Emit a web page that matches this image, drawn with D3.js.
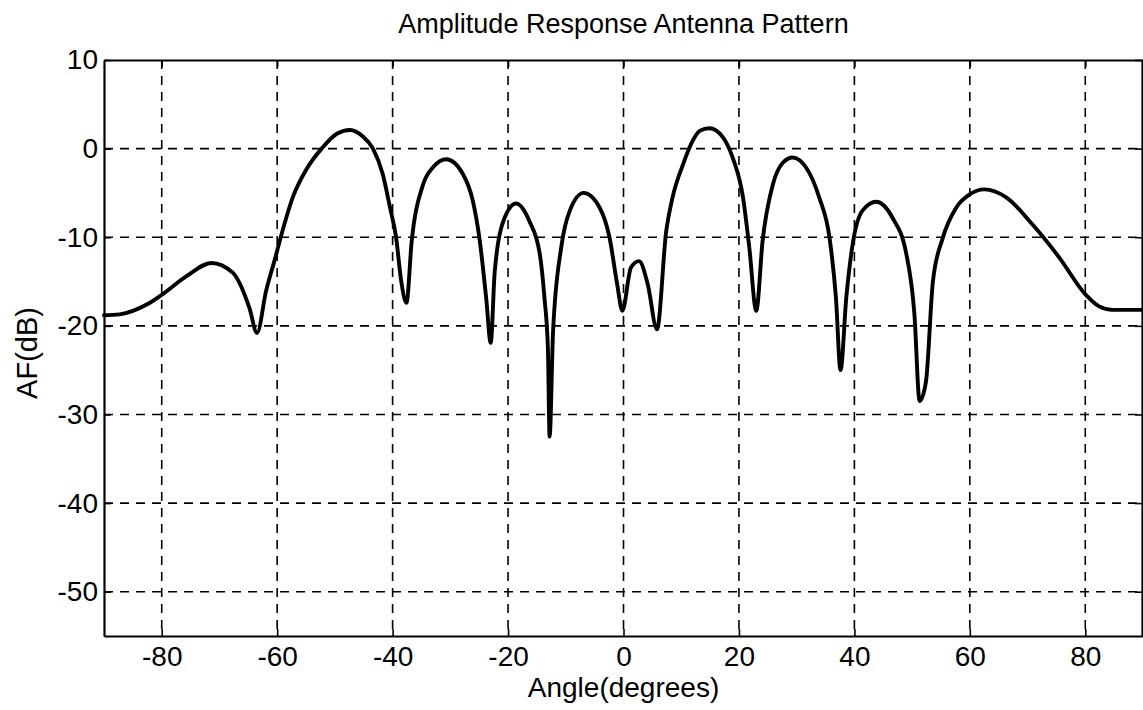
<!DOCTYPE html>
<html>
<head>
<meta charset="utf-8">
<script src="https://cdn.jsdelivr.net/npm/d3@7"></script>
<style>
  html, body { margin: 0; padding: 0; background: #fff; }
  svg { display: block; }
  text { font-family: "Liberation Sans", Arial, Helvetica, sans-serif; fill: #000; }
</style>
</head>
<body>
<svg id="chart" width="1143" height="710"></svg>
<script>
// ---- data ----
const angles = [-90, -87.3, -82.6, -80, -75.7, -71.4, -67.7, -64.8, -63.5, -61.9, -60.4, -59.3, -57.3, -54.9,
  -52.3, -49.6, -47.4, -45.2, -43.4, -41.7, -40.5, -39.4, -38.5, -37.6, -36.7, -34.8, -33.0, -30.7, -27.8,
  -26.1, -24.9, -23.8, -23.0, -22.3, -20.6, -18.6, -16.3, -14.5, -13.7, -13.1, -12.8, -12.2, -10.8, -9.3,
  -6.9, -4.1, -2.4, -1.1, -0.2, 1.3, 2.7, 4.2, 5.8, 7.4, 8.5, 10.3, 12.0, 13.2, 14.9, 17.2, 18.9, 20.7,
  21.8, 23.0, 24.1, 25.9, 27.6, 29.3, 31.6, 33.9, 35.7, 36.8, 37.6, 38.6, 39.7, 41.4, 43.8, 46.6, 49.0,
  50.4, 51.3, 52.4, 53.6, 55.3, 57.6, 59.9, 62.5, 66.3, 70.9, 75.5, 80.1, 82.4, 84.7, 90];
const afdB = [-18.8, -18.7, -17.6, -16.5, -14.4, -12.9, -14.0, -18.0, -20.8, -16.0, -12.5, -9.8, -5.5, -2.3,
  0.0, 1.7, 2.1, 1.4, 0.0, -2.9, -6.5, -10.0, -15.0, -17.4, -10.5, -4.2, -2.1, -1.2, -2.9,
  -5.9, -10.4, -16.8, -21.9, -13.8, -7.8, -6.2, -8.2, -11.9, -16.8, -22.5, -32.5, -20.6, -11.2, -7.0,
  -5.0, -6.7, -10.1, -15.3, -18.3, -13.4, -12.7, -15.3, -20.4, -9.3, -5.5, -1.8, 0.9, 2.0, 2.3, 1.3, -1.0, -5.5,
  -11.2, -18.3, -10.4, -4.0, -1.6, -1.0, -2.1, -5.5, -10.1, -16.8, -25.0, -16.8, -10.8, -7.0, -6.0, -7.8, -11.9,
  -18.7, -28.5, -26.3, -15.0, -10.1, -6.7, -5.2, -4.6, -5.5, -8.6, -12.3, -16.5, -17.8, -18.2, -18.2];
const xTicks = [-80, -60, -40, -20, 0, 20, 40, 60, 80];
const yTicks = [10, 0, -10, -20, -30, -40, -50];
const xDomain = [-90, 90];
const yDomain = [-55, 10];
const titleText = "Amplitude Response Antenna Pattern";
const xLabelText = "Angle(degrees)";
const yLabelText = "AF(dB)";

// ---- layout ----
const svg = d3.select("#chart");
const L = 104, R = 1143, T = 60, B = 636;
const x = d3.scaleLinear().domain(xDomain).range([L, R]);
const y = d3.scaleLinear().domain(yDomain).range([B, T]);
const fmt = d => String(d);   // plain hyphen-minus like the reference

// grid
const grid = svg.append("g").attr("stroke", "#000").attr("stroke-width", 1.6)
  .attr("stroke-dasharray", "9,7").attr("fill", "none");
grid.selectAll("line.v").data(xTicks).join("line").attr("class", "v")
  .attr("x1", d => x(d)).attr("x2", d => x(d)).attr("y1", T).attr("y2", B);
grid.selectAll("line.h").data(yTicks.filter(d => d > yDomain[0] && d < yDomain[1])).join("line").attr("class", "h")
  .attr("y1", d => y(d)).attr("y2", d => y(d)).attr("x1", L).attr("x2", R);

// axes (frame + inward ticks + labels)
const axB = d3.axisBottom(x).tickValues(xTicks).tickSizeInner(-7).tickSizeOuter(0).tickPadding(10).tickFormat(fmt);
const axT = d3.axisTop(x).tickValues(xTicks).tickSizeInner(-7).tickSizeOuter(0).tickFormat("");
const axL = d3.axisLeft(y).tickValues(yTicks).tickSizeInner(-7).tickSizeOuter(0).tickPadding(6).tickFormat(fmt);
const axR = d3.axisRight(y).tickValues(yTicks).tickSizeInner(-7).tickSizeOuter(0).tickFormat("");

function styleAxis(g) {
  g.select(".domain").attr("stroke", "#000").attr("stroke-width", 2.2);
  g.selectAll(".tick line").attr("stroke", "#000").attr("stroke-width", 1.6);
  g.selectAll(".tick text").attr("font-size", 28).attr("font-family", "Liberation Sans, Arial, sans-serif").attr("fill", "#000");
}
svg.append("g").attr("transform", `translate(0,${B})`).call(axB).call(styleAxis);
svg.append("g").attr("transform", `translate(0,${T})`).call(axT).call(styleAxis);
svg.append("g").attr("transform", `translate(${L},0)`).call(axL).call(styleAxis);
svg.append("g").attr("transform", `translate(${R - 1},0)`).call(axR).call(styleAxis);

// curve
const pts = angles.map((a, i) => [a, afdB[i]]);
const line = d3.line().x(d => x(d[0])).y(d => y(d[1])).curve(d3.curveMonotoneX);
svg.append("path").datum(pts).attr("d", line)
  .attr("fill", "none").attr("stroke", "#000").attr("stroke-width", 3.9)
  .attr("stroke-linejoin", "round").attr("stroke-linecap", "round");

// text
svg.append("text").attr("x", (L + R) / 2).attr("y", 33).attr("text-anchor", "middle")
  .attr("font-size", 27).text(titleText);
svg.append("text").attr("x", (L + R) / 2).attr("y", 697).attr("text-anchor", "middle")
  .attr("font-size", 28).text(xLabelText);
svg.append("text").attr("transform", `translate(37,${(T + B) / 2 + 5}) rotate(-90)`).attr("text-anchor", "middle")
  .attr("font-size", 29).text(yLabelText);
</script>
</body>
</html>
